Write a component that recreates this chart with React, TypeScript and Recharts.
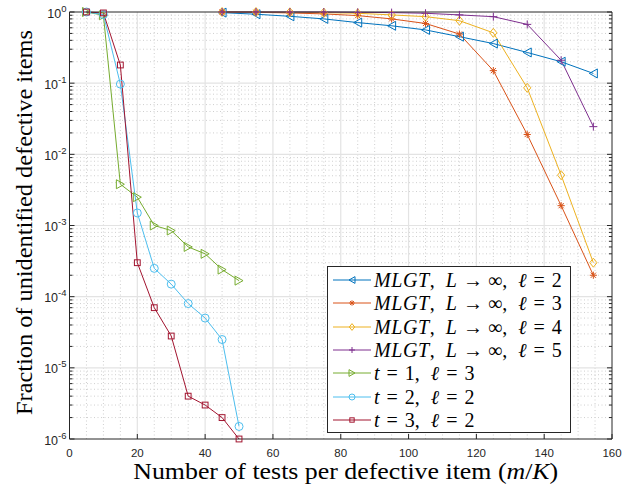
import React from 'react';
import { ComposedChart, Line, XAxis, YAxis, ReferenceLine, Legend } from 'recharts';

// ---------- data ----------
const mlgtX = [45, 55, 65, 75, 85, 95, 105, 115, 125, 135, 145, 154.5];
const tX = [5, 10, 15, 20, 25, 30, 35, 40, 45, 50];

const mlgtL2 = [0.98, 0.93, 0.87, 0.8, 0.71, 0.64, 0.56, 0.45, 0.36, 0.27, 0.2, 0.137];
const mlgtL3 = [1.0, 0.99, 0.97, 0.94, 0.89, 0.8, 0.69, 0.49, 0.15, 0.019, 0.0019, 0.0002];
const mlgtL4 = [1.0, 1.0, 0.99, 0.98, 0.96, 0.91, 0.86, 0.755, 0.51, 0.086, 0.0051, 0.0003];
const mlgtL5 = [1.0, 1.0, 1.0, 1.0, 0.99, 0.98, 0.96, 0.91, 0.86, 0.67, 0.21, 0.0245];
const t1L3 = [1.0, 0.9, 0.0038, 0.0025, 0.001, 0.00085, 0.0005, 0.0004, 0.00024, 0.000168];
const t2L2 = [1.0, 0.92, 0.097, 0.0015, 0.00025, 0.00015, 0.00008, 0.00005, 0.000025, 0.0000015];
const t3L2 = [1.0, 0.97, 0.18, 0.0003, 0.00007, 0.000028, 0.000004, 0.000003, 0.000002, 0.000001];

const xTicks = [0, 20, 40, 60, 80, 100, 120, 140, 160];
const yTicks = [1e-6, 1e-5, 1e-4, 1e-3, 1e-2, 1e-1, 1];
const yExponents = ['-6', '-5', '-4', '-3', '-2', '-1', '0'];

const xMinorGrid: number[] = [];
for (let v = 5; v < 160; v += 5) if (v % 20 !== 0) xMinorGrid.push(v);
const yMinorTicks: number[] = [];
for (let e = -6; e < 0; e++) for (let m = 2; m <= 9; m++) yMinorTicks.push(m * Math.pow(10, e));
const yAllTicks = [...yTicks, ...yMinorTicks].sort((a, b) => a - b);

const zip = (xs: number[], ys: number[]) => xs.map((x, i) => ({ x, y: ys[i] }));

type Shape = 'tl' | 'star' | 'diamond' | 'plus' | 'tr' | 'circle' | 'square';

const series: { name: string; color: string; shape: Shape; data: { x: number; y: number }[]; kind: 'mlgt' | 't'; t?: number; l: number }[] = [
  { name: 'mlgt2', color: '#0072BD', shape: 'tl', data: zip(mlgtX, mlgtL2), kind: 'mlgt', l: 2 },
  { name: 'mlgt3', color: '#D95319', shape: 'star', data: zip(mlgtX, mlgtL3), kind: 'mlgt', l: 3 },
  { name: 'mlgt4', color: '#EDB120', shape: 'diamond', data: zip(mlgtX, mlgtL4), kind: 'mlgt', l: 4 },
  { name: 'mlgt5', color: '#7E2F8E', shape: 'plus', data: zip(mlgtX, mlgtL5), kind: 'mlgt', l: 5 },
  { name: 't1', color: '#77AC30', shape: 'tr', data: zip(tX, t1L3), kind: 't', t: 1, l: 3 },
  { name: 't2', color: '#4DBEEE', shape: 'circle', data: zip(tX, t2L2), kind: 't', t: 2, l: 2 },
  { name: 't3', color: '#A2142F', shape: 'square', data: zip(tX, t3L2), kind: 't', t: 3, l: 2 },
];

// ---------- style ----------
const AX = '#262626';
const MAJOR_GRID = '#e3e3e3';
const MINOR_GRID = '#cfcfcf';
const M = 4;
const SANS = '"Liberation Sans", Arial, sans-serif';
const SERIF = '"Liberation Serif", "Times New Roman", serif';

function Marker({ shape, cx, cy, color, s = 1 }: { shape: Shape; cx: number; cy: number; color: string; s?: number }) {
  const p = { fill: 'none', stroke: color, strokeWidth: 1 };
  switch (shape) {
    case 'tl':
      return <polygon {...p} points={`${cx - 4 * s},${cy} ${cx + 4 * s},${cy - 4.5 * s} ${cx + 4 * s},${cy + 4.5 * s}`} />;
    case 'tr':
      return <polygon {...p} points={`${cx + 4 * s},${cy} ${cx - 4 * s},${cy - 4.5 * s} ${cx - 4 * s},${cy + 4.5 * s}`} />;
    case 'diamond':
      return <polygon {...p} points={`${cx},${cy - 4.5 * s} ${cx + 3.6 * s},${cy} ${cx},${cy + 4.5 * s} ${cx - 3.6 * s},${cy}`} />;
    case 'circle':
      return <circle {...p} cx={cx} cy={cy} r={4 * s} />;
    case 'square':
      return <rect {...p} x={cx - 2.9 * s} y={cy - 2.9 * s} width={5.8 * s} height={5.8 * s} />;
    case 'plus':
      return (
        <g {...p}>
          <line x1={cx - 4 * s} x2={cx + 4 * s} y1={cy} y2={cy} />
          <line x1={cx} x2={cx} y1={cy - 4 * s} y2={cy + 4 * s} />
        </g>
      );
    case 'star': {
      const r = 3.6 * s;
      const d = r * 0.72;
      return (
        <g {...p}>
          <line x1={cx - r} x2={cx + r} y1={cy} y2={cy} />
          <line x1={cx} x2={cx} y1={cy - r} y2={cy + r} />
          <line x1={cx - d} x2={cx + d} y1={cy - d} y2={cy + d} />
          <line x1={cx - d} x2={cx + d} y1={cy + d} y2={cy - d} />
        </g>
      );
    }
  }
  return null;
}

const isDecade = (v: number) => yTicks.some((t) => Math.abs(t - v) / t < 1e-6);

function LeftTick(props: any) {
  const { x, y, payload } = props;
  const v = payload.value;
  const left = x + M;
  const major = isDecade(v);
  const idx = yTicks.findIndex((t) => Math.abs(t - v) / t < 1e-6);
  return (
    <g>
      <line x1={left} x2={left + (major ? 5 : 3)} y1={y} y2={y} stroke={AX} strokeWidth={1} />
      {major && (
        <text x={left - 3} y={y + 5.5} textAnchor="end" fontFamily={SANS} fontSize={12.5} fill={AX}>
          10
          <tspan dy={-6} fontSize={9.5}>
            {yExponents[idx]}
          </tspan>
        </text>
      )}
    </g>
  );
}

function RightTick(props: any) {
  const { x, y, payload } = props;
  const right = x - M;
  const major = isDecade(payload.value);
  return <line x1={right} x2={right - (major ? 5 : 3)} y1={y} y2={y} stroke={AX} strokeWidth={1} />;
}

function BottomTick(props: any) {
  const { x, y, payload } = props;
  const bottom = y - M;
  return (
    <g>
      <line x1={x} x2={x} y1={bottom} y2={bottom - 5} stroke={AX} strokeWidth={1} />
      <text x={x} y={bottom + 18} textAnchor="middle" fontFamily={SANS} fontSize={11.5} fill={AX}>
        {payload.value}
      </text>
    </g>
  );
}

function TopTick(props: any) {
  const { x, y } = props;
  const top = y + M;
  return <line x1={x} x2={x} y1={top} y2={top + 5} stroke={AX} strokeWidth={1} />;
}

function XTitle(props: any) {
  const vb = props.viewBox || { x: 70, width: 542 };
  const cx = vb.x + vb.width / 2 + 5;
  return (
    <text
      x={cx}
      y={479}
      textAnchor="middle"
      fontFamily={SERIF}
      fontSize={23}
      fill="#000"
      textLength={425}
      lengthAdjust="spacingAndGlyphs"
    >
      Number of tests per defective item (<tspan fontStyle="italic">m</tspan>/<tspan fontStyle="italic">K</tspan>)
    </text>
  );
}

function YTitle(props: any) {
  const vb = props.viewBox || { y: 12, height: 427 };
  const cy = vb.y + vb.height / 2 - 3;
  return (
    <text
      x={0}
      y={0}
      transform={`translate(32, ${cy}) rotate(-90)`}
      textAnchor="middle"
      fontFamily={SERIF}
      fontSize={23}
      fill="#000"
      textLength={385}
      lengthAdjust="spacingAndGlyphs"
    >
      Fraction of unidentified defective items
    </text>
  );
}

const Gap = ({ w }: { w: number }) => <span style={{ display: 'inline-block', width: w }} />;

function LegendLabel({ s }: { s: (typeof series)[number] }) {
  const it: React.CSSProperties = { fontStyle: 'italic' };
  if (s.kind === 'mlgt') {
    return (
      <span>
        <span style={{ ...it, letterSpacing: 0.6 }}>MLGT</span>,<Gap w={11} />
        <span style={it}>L</span>
        <Gap w={6} />→<Gap w={5} />∞,
        <Gap w={11} />
        <span style={it}>ℓ</span>
        <Gap w={7} />=<Gap w={7} />
        {s.l}
      </span>
    );
  }
  return (
    <span>
      <span style={it}>t</span>
      <Gap w={7} />=<Gap w={7} />
      {s.t},<Gap w={11} />
      <span style={it}>ℓ</span>
      <Gap w={7} />=<Gap w={7} />
      {s.l}
    </span>
  );
}

function LegendBox() {
  return (
    <div
      style={{
        boxSizing: 'border-box',
        width: 244,
        height: 167,
        border: `1px solid ${AX}`,
        background: '#fff',
        paddingTop: 1.5,
      }}
    >
      {series.map((s) => (
        <div key={s.name} style={{ height: 23.3, display: 'flex', alignItems: 'center', whiteSpace: 'pre' }}>
          <svg width={46} height={20} style={{ flex: 'none' }}>
            <line x1={5} x2={43} y1={10} y2={10} stroke={s.color} strokeWidth={1} />
            <Marker shape={s.shape} cx={24} cy={10} color={s.color} s={0.75} />
          </svg>
          <span style={{ fontFamily: SERIF, fontSize: 20, color: '#000', lineHeight: '20px' }}>
            <LegendLabel s={s} />
          </span>
        </div>
      ))}
    </div>
  );
}

export default function App() {
  return (
    <div style={{ position: 'absolute', left: 0, top: 0, width: 633, height: 485, background: '#fff' }}>
      <ComposedChart width={633} height={485} margin={{ top: 0, right: 0, bottom: 0, left: 0 }}>
        <XAxis
          xAxisId={0}
          dataKey="x"
          type="number"
          domain={[0, 160]}
          ticks={xTicks}
          interval={0}
          height={46}
          tickSize={0}
          tickMargin={M}
          tick={<BottomTick />}
          axisLine={{ stroke: AX, strokeWidth: 1 }}
          tickLine={false}
          label={{ content: (p: any) => <XTitle {...p} /> }}
        />
        <XAxis
          xAxisId="top"
          orientation="top"
          type="number"
          domain={[0, 160]}
          allowDataOverflow
          ticks={xTicks}
          interval={0}
          height={12}
          tickSize={0}
          tickMargin={M}
          tick={<TopTick />}
          axisLine={{ stroke: AX, strokeWidth: 1 }}
          tickLine={false}
        />
        <YAxis
          yAxisId={0}
          type="number"
          scale="log"
          domain={[1e-6, 1]}
          ticks={yAllTicks}
          interval={0}
          width={69.5}
          tickSize={0}
          tickMargin={M}
          tick={<LeftTick />}
          axisLine={{ stroke: AX, strokeWidth: 1 }}
          tickLine={false}
          label={{ content: (p: any) => <YTitle {...p} /> }}
        />
        <YAxis
          yAxisId="right"
          orientation="right"
          type="number"
          scale="log"
          domain={[1e-6, 1]}
          allowDataOverflow
          ticks={yAllTicks}
          interval={0}
          width={21}
          tickSize={0}
          tickMargin={M}
          tick={<RightTick />}
          axisLine={{ stroke: AX, strokeWidth: 1 }}
          tickLine={false}
        />

        {xMinorGrid.map((v) => (
          <ReferenceLine key={`xm${v}`} x={v} stroke={MINOR_GRID} strokeDasharray="1 2.5" strokeWidth={1} />
        ))}
        {yMinorTicks.map((v) => (
          <ReferenceLine key={`ym${v}`} y={v} stroke={MINOR_GRID} strokeDasharray="1 2.5" strokeWidth={1} />
        ))}
        {xTicks.slice(1, -1).map((v) => (
          <ReferenceLine key={`xg${v}`} x={v} stroke={MAJOR_GRID} strokeWidth={1.2} />
        ))}
        {yTicks.slice(1, -1).map((v) => (
          <ReferenceLine key={`yg${v}`} y={v} stroke={MAJOR_GRID} strokeWidth={1.2} />
        ))}

        {series.map((s) => (
          <Line
            key={s.name}
            data={s.data}
            dataKey="y"
            type="linear"
            stroke={s.color}
            strokeWidth={1}
            isAnimationActive={false}
            activeDot={false}
            legendType="none"
            dot={(p: any) => <Marker key={`${s.name}-${p.index}`} shape={s.shape} cx={p.cx} cy={p.cy} color={s.color} />}
          />
        ))}

        <Legend
          layout="vertical"
          align="center"
          verticalAlign="middle"
          wrapperStyle={{ left: 327, top: 266, width: 244, height: 167 }}
          content={() => <LegendBox />}
        />
      </ComposedChart>
    </div>
  );
}
